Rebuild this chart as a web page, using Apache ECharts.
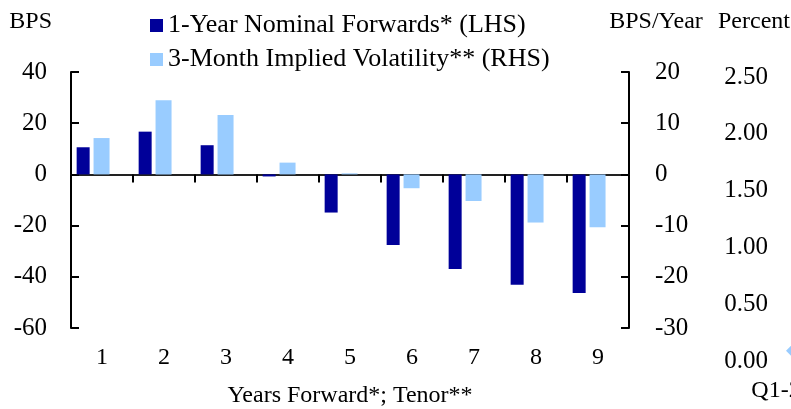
<!DOCTYPE html>
<html>
<head>
<meta charset="utf-8">
<script src="https://cdn.jsdelivr.net/npm/echarts@6/dist/echarts.min.js"></script>
<style>
    html, body { margin: 0; padding: 0; background: #fff; }
    #chart { width: 791px; height: 409px; }
</style>
</head>
<body>
<div id="chart"></div>
<script>
// chart data
var years = ['1', '2', '3', '4', '5', '6', '7', '8', '9'];
var forwards = [10.6, 16.7, 11.4, -0.8, -14.9, -27.6, -37.0, -43.1, -46.3];   // BPS, LHS
var volatility = [7.1, 14.5, 11.6, 2.3, 0.2, -2.7, -5.2, -9.4, -10.3];        // BPS/Year, RHS
var lhsTicks = {min: -60, max: 40, interval: 20};
var rhsTicks = {min: -30, max: 20, interval: 10};

// the next chart, cut off at the right edge
var quarters = ['Q1-2020'];
var percentValues = [0.09];
var pctTicks = {min: 0, max: 2.5, interval: 0.5};

var font = 'Liberation Serif, Times New Roman, serif';
var black = '#000';

var myChart = echarts.init(document.getElementById('chart'));
var option = {
    animation: false,
    textStyle: {fontFamily: font, color: black},
    grid: [
        {left: 71, right: 162, top: 72, bottom: 81, outerBoundsMode: 'none'},
        // runs off the right edge on purpose
        {left: 786, width: 16, top: 77, bottom: 48, outerBoundsMode: 'none'}
    ],
    legend: {
        data: ['1-Year Nominal Forwards* (LHS)', '3-Month Implied Volatility** (RHS)'],
        orient: 'vertical',
        left: 145,
        top: 6,
        icon: 'rect',
        itemWidth: 13,
        itemHeight: 13,
        itemGap: 5,
        textStyle: {fontFamily: font, fontSize: 26, color: black, lineHeight: 29}
    },
    xAxis: [
        {
            type: 'category',
            gridIndex: 0,
            data: years,
            axisLine: {onZero: true, lineStyle: {color: '#222', width: 2}},
            axisTick: {show: true, inside: false, length: 8, lineStyle: {color: black, width: 2}},
            axisLabel: {show: false},
            splitLine: {show: false}
        },
        {
            // labels and name sit at the bottom, away from the zero line
            type: 'category',
            gridIndex: 0,
            position: 'bottom',
            data: years,
            axisLine: {show: false, onZero: false},
            axisTick: {show: false},
            axisLabel: {fontFamily: font, fontSize: 24, color: black, margin: 18},
            name: 'Years Forward*; Tenor**',
            nameLocation: 'middle',
            nameGap: 56,
            nameTextStyle: {fontFamily: font, fontSize: 24, color: black}
        },
        {
            type: 'category',
            gridIndex: 1,
            data: quarters,
            axisLine: {show: false},
            axisTick: {show: false},
            axisLabel: {fontFamily: font, fontSize: 24, color: black, margin: 18}
        }
    ],
    yAxis: [
        {
            type: 'value',
            gridIndex: 0,
            min: lhsTicks.min,
            max: lhsTicks.max,
            interval: lhsTicks.interval,
            name: 'BPS',
            nameGap: 38,
            nameTextStyle: {fontFamily: font, fontSize: 24, color: black, align: 'right', padding: [0, 19, 0, 0]},
            axisLine: {show: true, lineStyle: {color: black, width: 2}},
            axisTick: {show: true, inside: true, length: 8, lineStyle: {color: black, width: 2}},
            axisLabel: {fontFamily: font, fontSize: 25, color: black, margin: 24},
            splitLine: {show: false}
        },
        {
            type: 'value',
            gridIndex: 0,
            position: 'right',
            min: rhsTicks.min,
            max: rhsTicks.max,
            interval: rhsTicks.interval,
            name: 'BPS/Year',
            nameGap: 38,
            nameTextStyle: {fontFamily: font, fontSize: 24, color: black, align: 'center', padding: [0, 0, 0, 54]},
            axisLine: {show: true, lineStyle: {color: black, width: 2}},
            axisTick: {show: true, inside: true, length: 8, lineStyle: {color: black, width: 2}},
            axisLabel: {fontFamily: font, fontSize: 25, color: black, margin: 26},
            splitLine: {show: false}
        },
        {
            type: 'value',
            gridIndex: 1,
            min: pctTicks.min,
            max: pctTicks.max,
            interval: pctTicks.interval,
            name: 'Percent',
            nameGap: 43,
            nameTextStyle: {fontFamily: font, fontSize: 24, color: black, align: 'center', padding: [0, 64, 0, 0]},
            axisLine: {show: false},
            axisTick: {show: false},
            axisLabel: {
                fontFamily: font, fontSize: 25, color: black, margin: 18,
                formatter: function (v) { return v.toFixed(2); }
            },
            splitLine: {show: false}
        }
    ],
    series: [
        {
            name: '1-Year Nominal Forwards* (LHS)',
            type: 'bar',
            xAxisIndex: 0,
            yAxisIndex: 0,
            data: forwards,
            barWidth: 13,
            barGap: '30%',
            itemStyle: {color: '#000099'}
        },
        {
            name: '3-Month Implied Volatility** (RHS)',
            type: 'bar',
            xAxisIndex: 0,
            yAxisIndex: 1,
            data: volatility,
            barWidth: 16,
            barGap: '30%',
            itemStyle: {color: '#99ccff'}
        },
        {
            // empty slot, keeps the pair left of centre like the original
            name: 'spacer',
            type: 'bar',
            xAxisIndex: 0,
            yAxisIndex: 1,
            data: [],
            barWidth: 13,
            barGap: '30%'
        },
        {
            name: 'percent',
            type: 'line',
            xAxisIndex: 2,
            yAxisIndex: 2,
            data: percentValues,
            symbol: 'diamond',
            symbolSize: 16,
            itemStyle: {color: '#99ccff'},
            lineStyle: {color: '#99ccff'}
        }
    ]
};
myChart.setOption(option);
</script>
</body>
</html>
